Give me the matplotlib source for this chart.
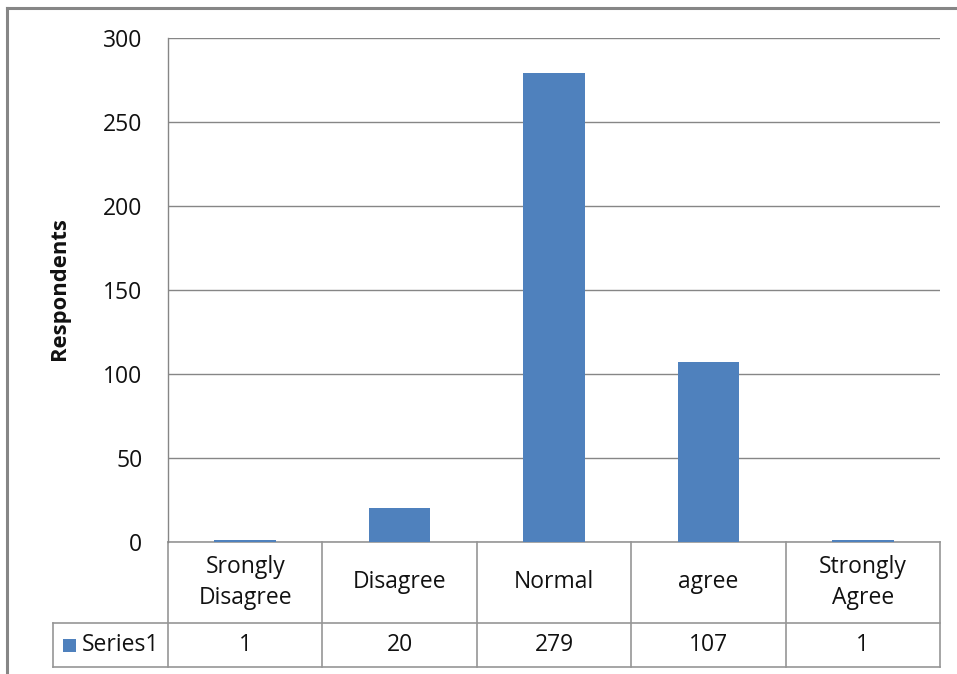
import matplotlib
matplotlib.use("Agg")
import matplotlib.pyplot as plt
import matplotlib.transforms as mtransforms
from matplotlib.lines import Line2D
from matplotlib.patches import Rectangle

categories = ["Srongly\nDisagree", "Disagree", "Normal", "agree", "Strongly\nAgree"]
values = [1, 20, 279, 107, 1]
series_name = "Series1"
y_ticks = [0, 50, 100, 150, 200, 250, 300]
y_label = "Respondents"

BAR_COLOR = "#4F81BD"
GRID_COLOR = "#868686"
TABLE_COLOR = "#969696"
TEXT_COLOR = "#111111"
FONT = "Open Sans"
FS = 16.5

W, H = 957, 674
fig = plt.figure(figsize=(W / 100, H / 100), dpi=100)

# plot area in pixel coordinates (left, top, right, bottom)
pl, pt, pr, pb = 168, 38, 940, 542
ax = fig.add_axes([pl / W, 1 - pb / H, (pr - pl) / W, (pb - pt) / H])

x = list(range(len(categories)))
ax.bar(x, values, width=0.4, color=BAR_COLOR, zorder=3)
ax.set_xlim(-0.5, len(categories) - 0.5)
ax.set_ylim(0, 300)
ax.set_yticks(y_ticks)
ax.set_yticklabels([str(t) for t in y_ticks], fontfamily=FONT, fontsize=FS,
                   color=TEXT_COLOR)
ax.tick_params(axis="y", length=0, pad=18.5)
ax.set_xticks([])
ax.grid(axis="y", color=GRID_COLOR, linewidth=1.0, zorder=0)
for side in ["top", "right", "bottom"]:
    ax.spines[side].set_visible(False)
ax.spines["left"].set_color(GRID_COLOR)
ax.spines["left"].set_linewidth(1.0)

fig.text(59 / W, 1 - 289 / H, y_label, rotation=90, ha="center", va="center",
         fontfamily=FONT, fontsize=15.8, fontweight="bold", color=TEXT_COLOR)

# data table under the axis: x follows the category scale, y in axes fraction
trans = mtransforms.blended_transform_factory(ax.transData, ax.transAxes)
ph = pb - pt
def yfrac(py):
    return (pb - py) / ph

row1_top, row2_top, row2_bot = yfrac(542), yfrac(623), yfrac(667)
px_per_cat = (pr - pl) / len(categories)
left_edge = -0.5 - (pl - 53) / px_per_cat
xmin, xmax = -0.5, len(categories) - 0.5

def hline(x0, x1, y):
    ax.add_line(Line2D([x0, x1], [y, y], transform=trans, color=TABLE_COLOR,
                       linewidth=1.2, clip_on=False))

def vline(xv, y0, y1):
    ax.add_line(Line2D([xv, xv], [y0, y1], transform=trans, color=TABLE_COLOR,
                       linewidth=1.2, clip_on=False))

hline(xmin, xmax, row1_top)
hline(left_edge, xmax, row2_top)
hline(left_edge, xmax, row2_bot)
for b in range(len(categories) + 1):
    vline(xmin + b, row1_top, row2_bot)
vline(left_edge, row2_top, row2_bot)

for i, (cat, val) in enumerate(zip(categories, values)):
    ax.text(i, (row1_top + row2_top) / 2, cat, transform=trans, ha="center",
            va="center", fontfamily=FONT, fontsize=FS, linespacing=1.35,
            color=TEXT_COLOR)
    ax.text(i, (row2_top + row2_bot) / 2, str(val), transform=trans,
            ha="center", va="center", fontfamily=FONT, fontsize=FS,
            color=TEXT_COLOR)

# legend key inside the table's series cell
key_y = (row2_top + row2_bot) / 2
ax.add_patch(Rectangle((left_edge + 10 / px_per_cat, key_y - 6.5 / ph),
                       13 / px_per_cat, 13 / ph, transform=trans,
                       facecolor=BAR_COLOR, edgecolor="none", clip_on=False))
ax.text(left_edge + 29 / px_per_cat, key_y, series_name, transform=trans,
        ha="left", va="center", fontfamily=FONT, fontsize=FS, color=TEXT_COLOR)

# chart frame
fig.add_artist(Line2D([7.5 / W, 7.5 / W], [0, 1 - 7.5 / H],
                      transform=fig.transFigure, color="#868686", linewidth=2.2))
fig.add_artist(Line2D([7.5 / W, 1], [1 - 7.5 / H, 1 - 7.5 / H],
                      transform=fig.transFigure, color="#868686", linewidth=2.2))

fig.savefig("out.png", dpi=100)
